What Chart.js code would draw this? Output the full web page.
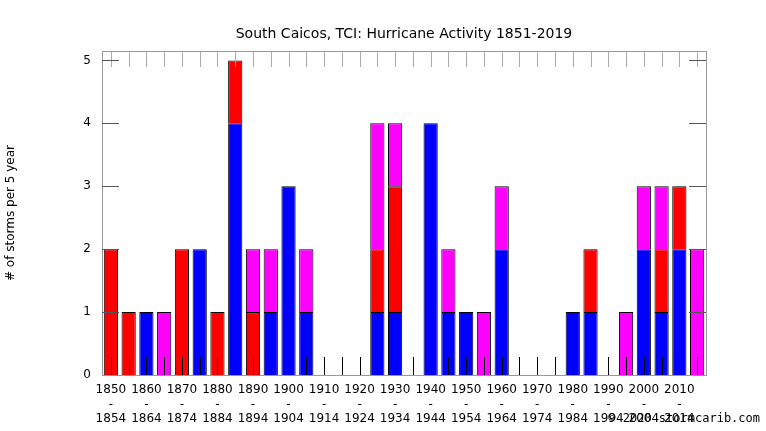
<!DOCTYPE html>
<html><head><meta charset="utf-8">
<script src="https://cdn.jsdelivr.net/npm/chart.js@4"></script>
<style>body{margin:0;background:#fff}#w{position:relative;width:766px;height:431px}
#c{position:absolute;right:6px;bottom:6px;font:12px "DejaVu Sans Mono",monospace}</style>
</head><body><div id="w"><canvas id="myChart1" width="766" height="431"></canvas><div id="c">© 2020 stormcarib.com</div></div>
<script>
const starts = [1850,1855,1860,1865,1870,1875,1880,1885,1890,1895,1900,1905,1910,1915,1920,1925,1930,1935,1940,1945,1950,1955,1960,1965,1970,1975,1980,1985,1990,1995,2000,2005,2010,2015];
const blue    = [0,0,1,0,0,2,0,4,0,1,3,1,0,0,0,1,1,0,4,1,1,0,2,0,0,0,1,1,0,0,2,1,2,0];
const red     = [2,1,0,0,2,0,1,1,1,0,0,0,0,0,0,1,2,0,0,0,0,0,0,0,0,0,0,1,0,0,0,1,1,0];
const magenta = [0,0,0,1,0,0,0,0,1,1,0,1,0,0,0,2,1,0,0,1,0,1,1,0,0,0,0,0,0,1,1,1,0,2];

const ticksPlugin = {
    id: 'ticks',
    afterDraw(chart) {
        const c = chart.ctx, a = chart.chartArea, x = chart.scales.x, y = chart.scales.y;
        c.save();
        c.lineWidth = 1;
        c.strokeStyle = '#999';
        c.strokeRect(a.left + 0.5, a.top + 0.5, a.right - a.left, a.bottom - a.top);
        starts.forEach((s, i) => {
            const px = Math.round(x.getPixelForValue(i)) + 0.5;
            c.strokeStyle = '#aaa';
            c.beginPath(); c.moveTo(px, a.top); c.lineTo(px, a.top + 16); c.stroke();
            c.strokeStyle = '#000';
            c.beginPath(); c.moveTo(px, a.bottom); c.lineTo(px, a.bottom - 18); c.stroke();
        });
        c.strokeStyle = '#555';
        for (let v = 1; v <= 5; v++) {
            const py = Math.round(y.getPixelForValue(v)) + 0.5;
            c.beginPath(); c.moveTo(a.left, py); c.lineTo(a.left + 17, py); c.stroke();
            c.beginPath(); c.moveTo(a.right, py); c.lineTo(a.right - 17, py); c.stroke();
        }
        c.fillStyle = '#000';
        c.font = '14px "DejaVu Sans"';
        c.textAlign = 'center';
        c.fillText('South Caicos, TCI: Hurricane Activity 1851-2019', 404, 38);
        c.restore();
    }
};

function ds(data, color) {
    return { data: data, backgroundColor: color, borderColor: '#000', borderWidth: 1,
             barPercentage: 0.8, categoryPercentage: 1 };
}

new Chart(document.getElementById('myChart1'), {
    type: 'bar',
    data: {
        labels: starts.map(String),
        datasets: [ds(blue, '#0000ff'), ds(red, '#ff0000'), ds(magenta, '#ff00ff')]
    },
    options: {
        responsive: false,
        animation: false,
        layout: { padding: { top: 51, right: 60, left: 0, bottom: 0 } },
        plugins: { legend: { display: false }, tooltip: { enabled: false } },
        scales: {
            x: {
                stacked: true,
                grid: { display: false },
                border: { display: false },
                afterFit: s => { s.height = 56; },
                ticks: {
                    autoSkip: false, maxRotation: 0, color: '#000', padding: 0,
                    font: { family: 'DejaVu Sans', size: 12 },
                    callback: (v, i) => i % 2 === 0 ? [String(starts[i]), '-', String(starts[i] + 4)] : ''
                }
            },
            y: {
                stacked: true, min: 0, max: 5.15,
                grid: { display: false },
                border: { display: false },
                afterFit: s => { s.width = 102; },
                afterBuildTicks: s => { s.ticks = [0,1,2,3,4,5].map(v => ({ value: v })); },
                ticks: { color: '#000', font: { family: 'DejaVu Sans', size: 12 } },
                title: { display: true, text: '# of storms per 5 year', color: '#000',
                         font: { family: 'DejaVu Sans', size: 12 } }
            }
        }
    },
    plugins: [ticksPlugin]
});
</script>
</body></html>
